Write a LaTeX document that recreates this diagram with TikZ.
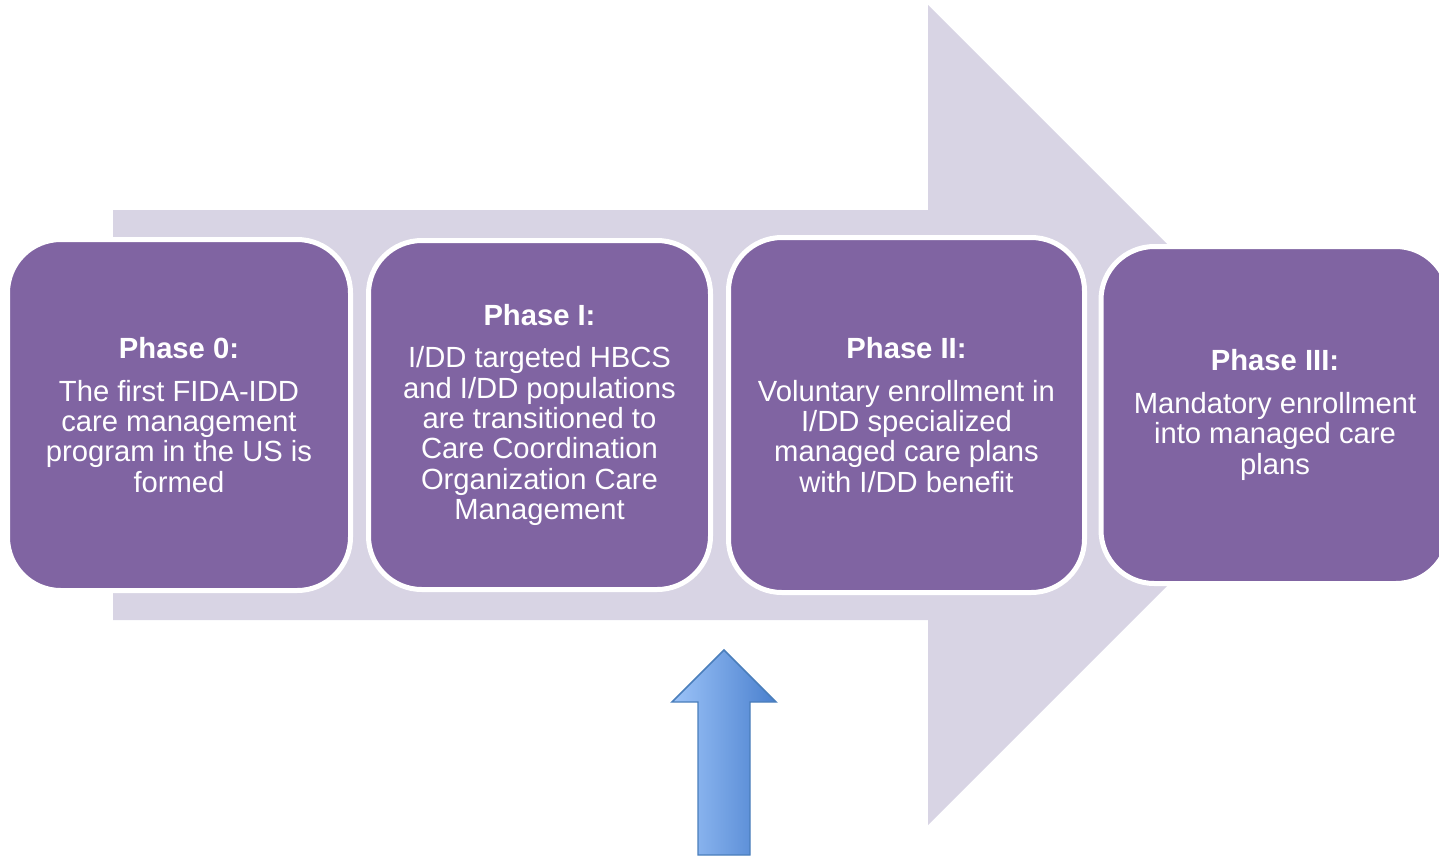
\documentclass[tikz,border=0pt]{standalone}
\usepackage{fontspec}
\usepackage{xcolor}
\usepackage{tikz}
\setmainfont{Liberation Sans}

\definecolor{phasefill}{HTML}{8064A2}
\definecolor{trackfill}{HTML}{D8D4E4}
\definecolor{uplight}{HTML}{9CC3F8}
\definecolor{updark}{HTML}{4A80CE}
\definecolor{upline}{HTML}{4A7EBB}

\tikzset{
  phase/.style={draw=white, line width=3.75pt, fill=phasefill, rounded corners=40pt,
    text=white, align=center, inner sep=0.75pt,
    font=\fontsize{21.9}{22.8}\selectfont},
  track/.style={fill=trackfill, draw=none},
  uparrow/.style={draw=upline, line width=1.1pt, left color=uplight, right color=updark}
}

\newcommand{\phasetitle}[1]{{\bfseries #1}\\[9pt]}

\begin{document}
\begin{tikzpicture}[x=0.75pt,y=0.75pt,yscale=-1,xscale=1]

\useasboundingbox (0,0) rectangle (1439,858);
\clip (0,0) rectangle (1439,858);

% wide arrow behind the phases
\draw[track] (113,210) -- (928,210) -- (928,5) -- (1338,415) -- (928,825) -- (928,620) -- (113,620) -- cycle ;

% phase boxes
\node[phase, minimum width=257.25pt, minimum height=263.25pt] (phase0) at (179,415)
  {\phasetitle{Phase 0:}The first FIDA-IDD\\care management\\program in the US is\\formed};

\node[phase, minimum width=256.5pt, minimum height=261.75pt] (phase1) at (539.5,415)
  {\phasetitle{Phase I:}I/DD targeted HBCS\\and I/DD populations\\are transitioned to\\Care Coordination\\Organization Care\\Management};

\node[phase, minimum width=267pt, minimum height=266.25pt] (phase2) at (906.5,415)
  {\phasetitle{Phase II:}Voluntary enrollment in\\I/DD specialized\\managed care plans\\with I/DD benefit};

\node[phase, minimum width=261pt, minimum height=252.75pt] (phase3) at (1275,415)
  {\phasetitle{Phase III:}Mandatory enrollment\\into managed care\\plans};

% pointer under phase II
\draw[uparrow] (698,855) -- (698,702) -- (672,702) -- (724,650) -- (776,702) -- (750,702) -- (750,855) -- cycle ;

\end{tikzpicture}
\end{document}
